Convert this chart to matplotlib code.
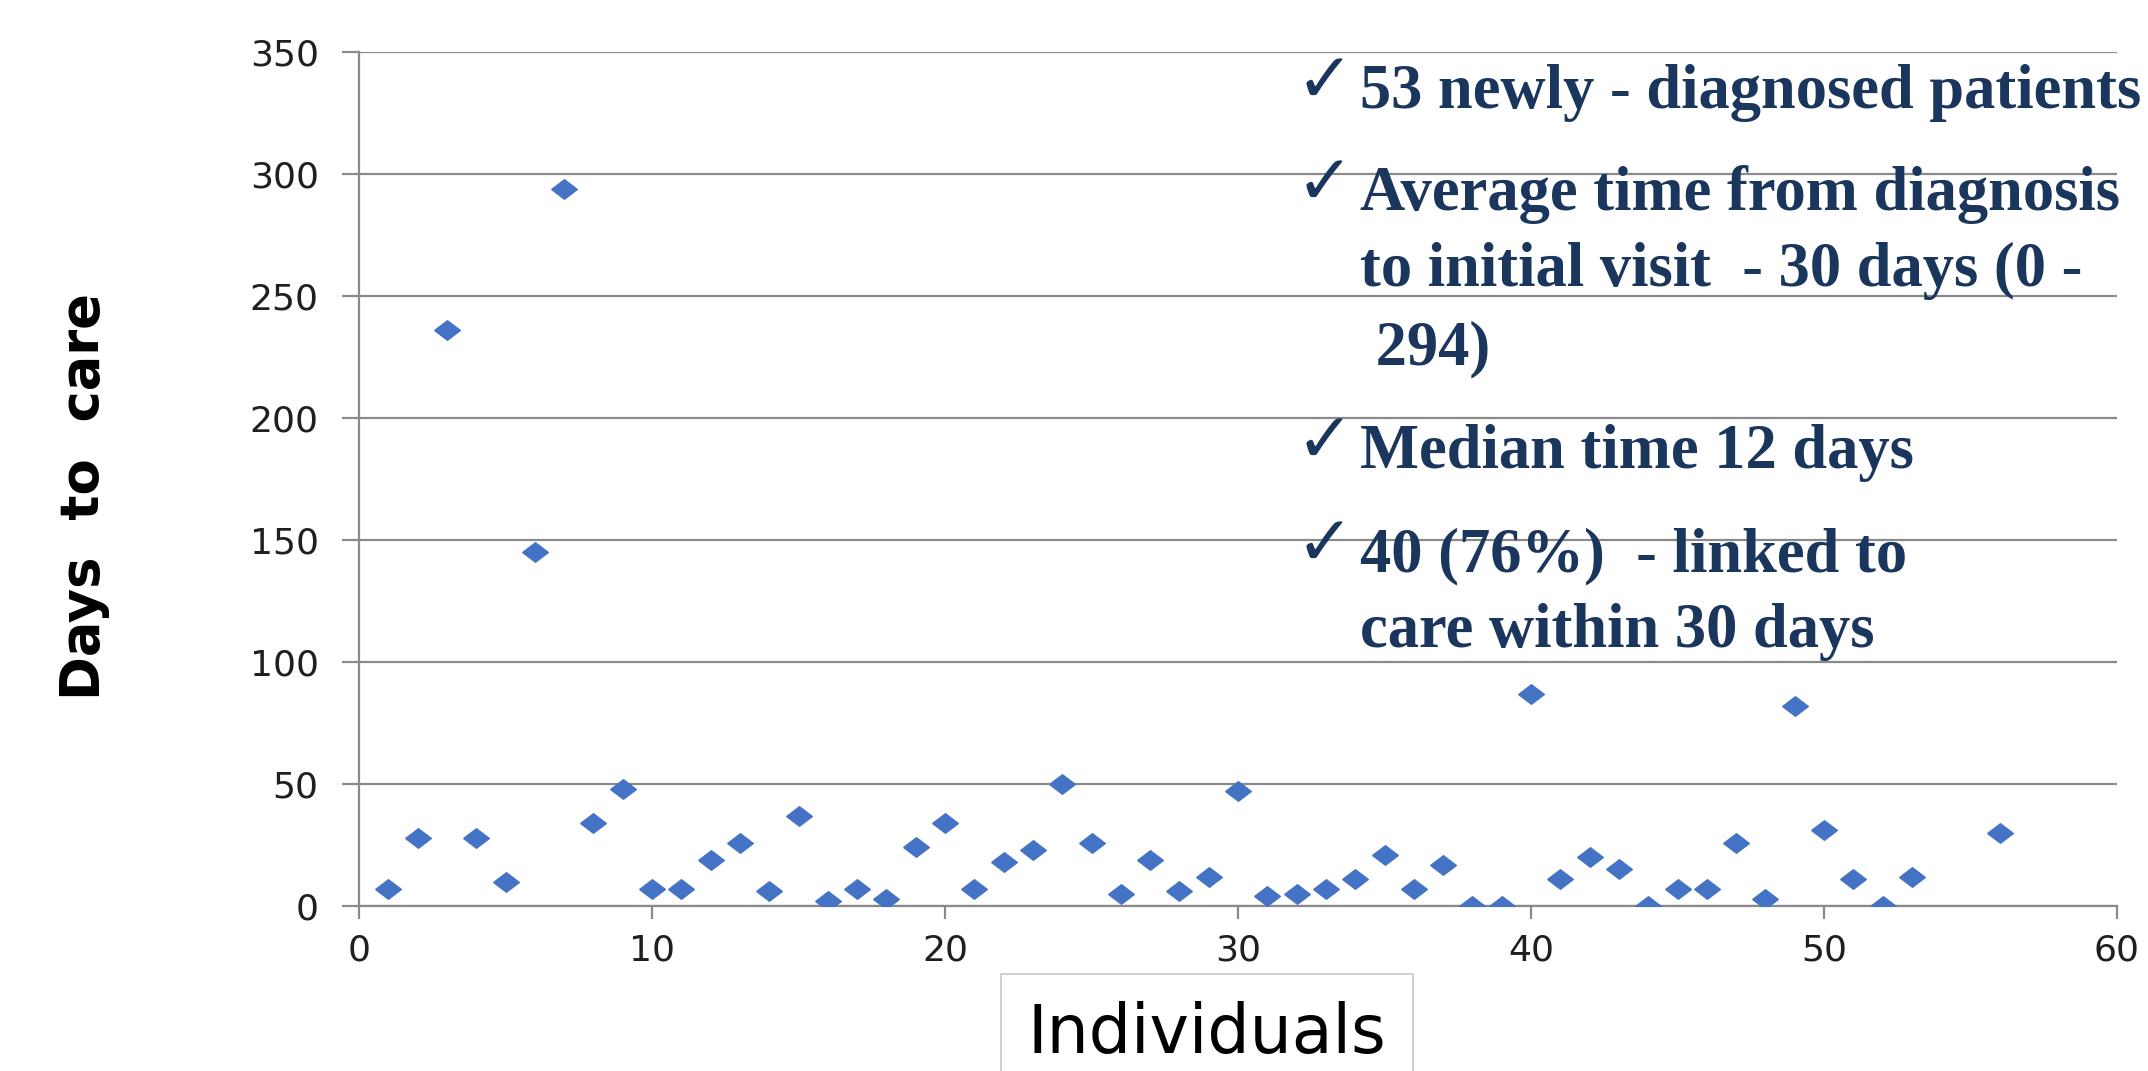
import matplotlib
matplotlib.use('Agg')
import matplotlib.pyplot as plt

# days from diagnosis to first visit, one point per individual
individual = list(range(1, 54)) + [56]
days = [7, 28, 236, 28, 10, 145, 294, 34, 48, 7, 7, 19, 26, 6, 37, 2, 7, 3, 24, 34,
        7, 18, 23, 50, 26, 5, 19, 6, 12, 47, 4, 5, 7, 11, 21, 7, 17, 0, 0, 87,
        11, 20, 15, 0, 7, 7, 26, 3, 82, 31, 11, 0, 12, 30]

x_ticks = [0, 10, 20, 30, 40, 50, 60]
y_ticks = [0, 50, 100, 150, 200, 250, 300, 350]

notes = [
    (108, '53 newly - diagnosed patients', True),
    (210, 'Average time from diagnosis', True),
    (286, 'to initial visit  - 30 days (0 -', False),
    (364, ' 294)', False),
    (468, 'Median time 12 days', True),
    (571, '40 (76%)  - linked to', True),
    (647, 'care within 30 days', False),
]

W, H = 2148, 1071
fig = plt.figure(figsize=(W / 100, H / 100), dpi=100)
ax = fig.add_axes([359 / W, 1 - 906 / H, (2117 - 359) / W, (906 - 52) / H])

grid_col = '#8a8a8a'
diamond = [(-1, 0), (0, 0.76), (1, 0), (0, -0.76), (-1, 0)]
ax.plot(individual, days, linestyle='none', marker=diamond, markersize=18.5,
        color='#4472c4', zorder=3)

ax.set_xlim(0, 60)
ax.set_ylim(0, 350)
ax.set_xticks(x_ticks)
ax.set_yticks(y_ticks)
ax.yaxis.grid(True, color=grid_col, linewidth=1.6)
ax.set_axisbelow(True)
for s in ['top', 'right']:
    ax.spines[s].set_visible(False)
for s in ['left', 'bottom']:
    ax.spines[s].set_color(grid_col)
    ax.spines[s].set_linewidth(1.6)
ax.tick_params(axis='y', length=12, width=1.6, color=grid_col, pad=17,
               labelsize=26, labelcolor='#1f1f1f')
ax.tick_params(axis='x', length=9, width=1.6, color=grid_col, pad=11,
               labelsize=26, labelcolor='#1f1f1f')

fig.text(84 / W, 1 - 497 / H, 'Days  to  care', rotation=90, fontsize=38,
         fontweight='bold', ha='center', va='center')

# x label sits in a light box below the axis
fig.text(1207 / W, 1 - 1053 / H, 'Individuals', fontsize=48, ha='center',
         va='baseline',
         bbox=dict(boxstyle='square,pad=0.4', facecolor='white', edgecolor='#c8c8c8',
                   linewidth=1.2))

navy = '#1b365d'
for y, line, check in notes:
    if check:
        fig.text(1354 / W, 1 - (y - 6) / H, '\u2713', fontsize=50, color=navy,
                 family=['DejaVu Sans'], va='baseline', ha='right')
    fig.text(1360 / W, 1 - y / H, line, fontsize=45, fontweight='bold', color=navy,
             family=['Liberation Serif', 'DejaVu Serif'], va='baseline')

fig.savefig('out.png', dpi=100)
